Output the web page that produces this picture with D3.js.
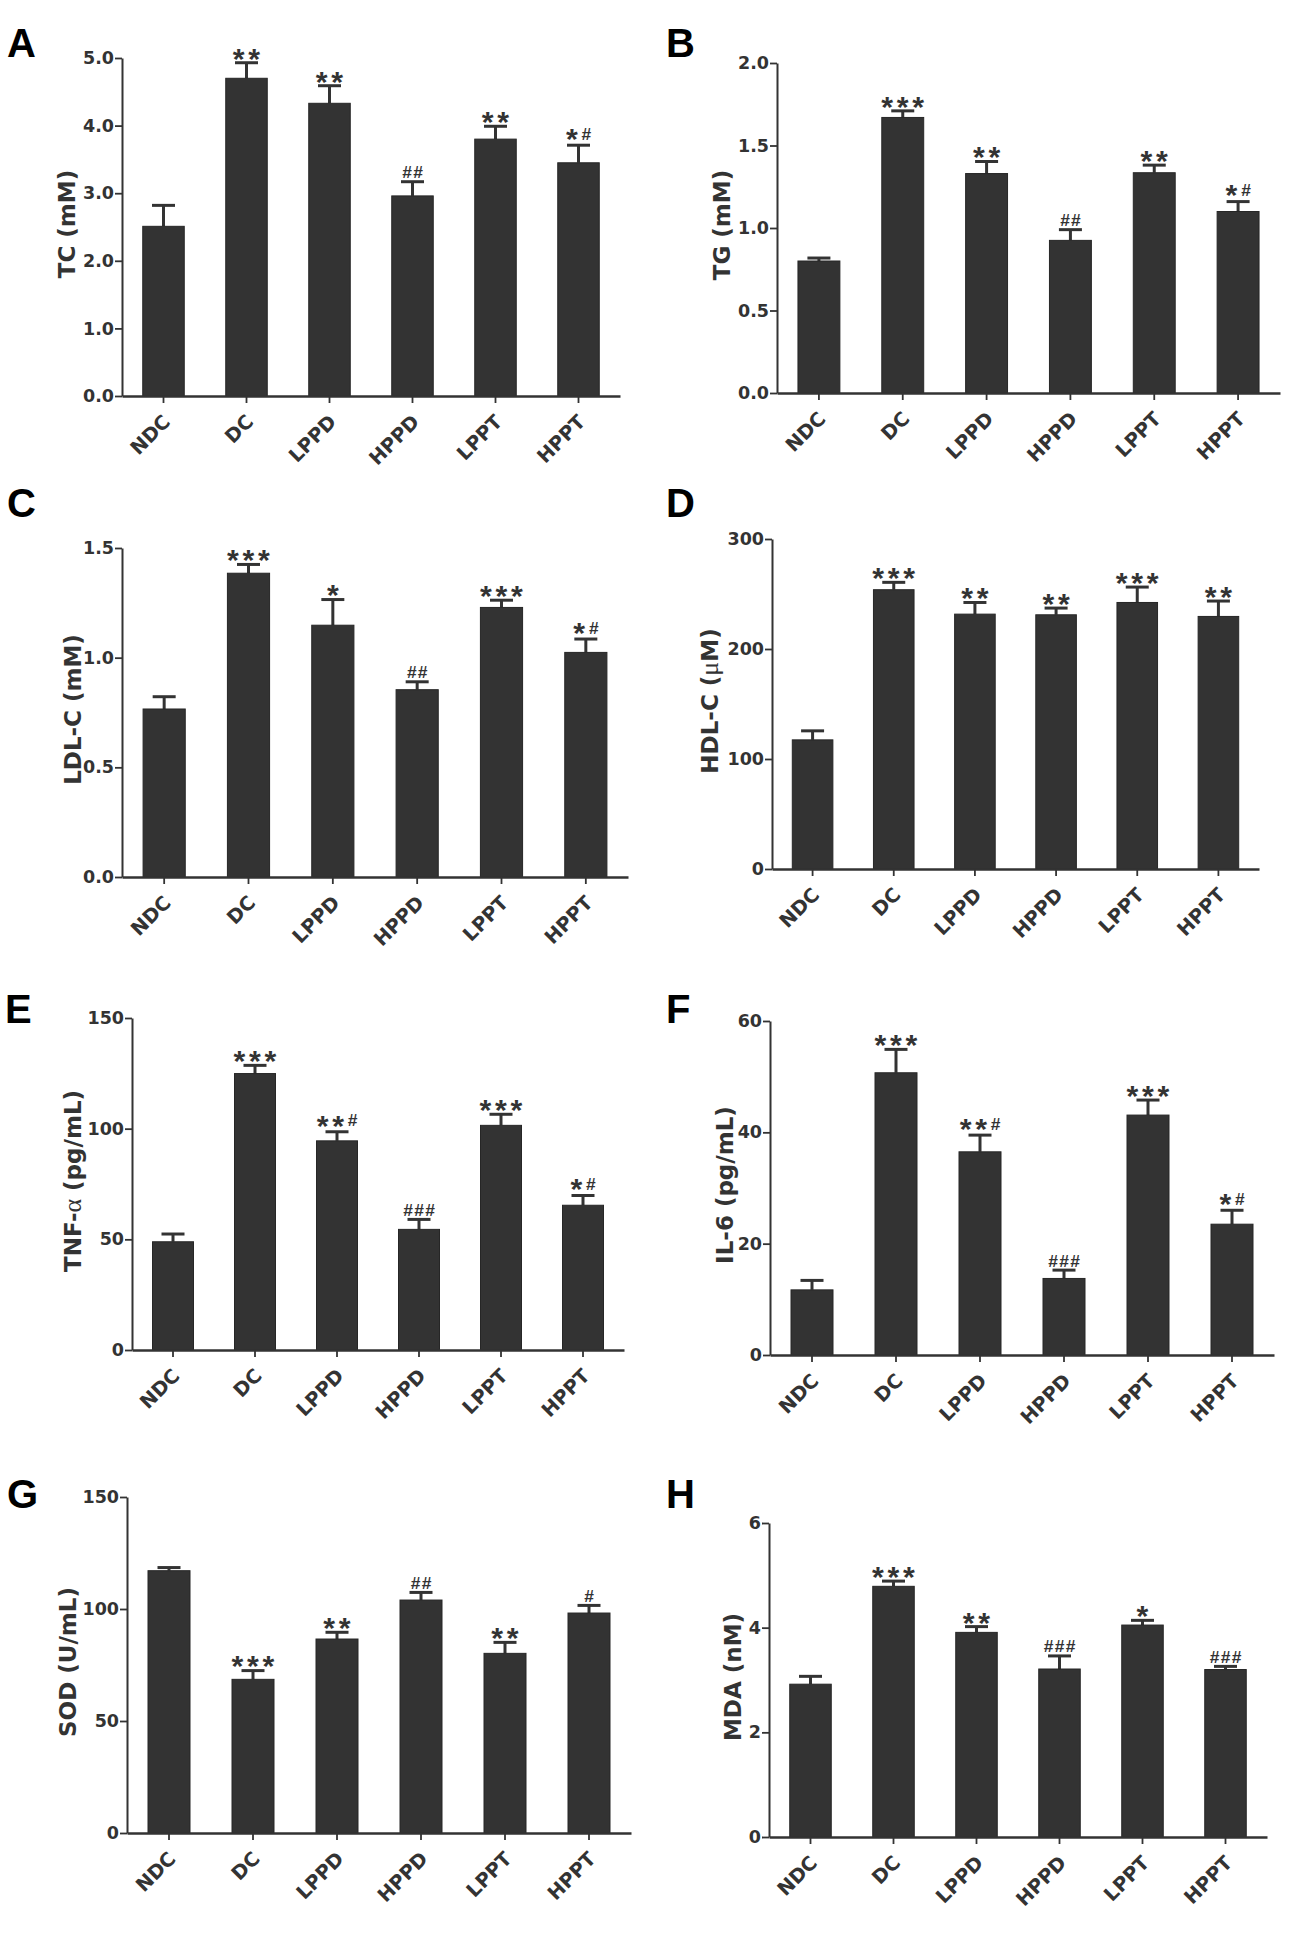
<!DOCTYPE html>
<html>
<head>
<meta charset="utf-8">
<script src="https://cdn.jsdelivr.net/npm/d3@7"></script>
<style>
body { margin: 0; background: #fff; }
svg { display: block; font-family: "DejaVu Sans", sans-serif; }
</style>
</head>
<body>
<div id="chart"></div>
<script>
// groups on every x axis
const groups = ["NDC", "DC", "LPPD", "HPPD", "LPPT", "HPPT"];

// A - TC (mM)
const tcMean = [2.51, 4.70, 4.33, 2.96, 3.80, 3.45];
const tcErr  = [0.31, 0.23, 0.26, 0.21, 0.19, 0.26];
const tcSig  = ["", "**", "**", "##", "**", "*#"];
const tcTicks = [0, 1, 2, 3, 4, 5];

// B - TG (mM)
const tgMean = [0.80, 1.67, 1.33, 0.925, 1.335, 1.10];
const tgErr  = [0.018, 0.04, 0.073, 0.065, 0.046, 0.06];
const tgSig  = ["", "***", "**", "##", "**", "*#"];
const tgTicks = [0, 0.5, 1.0, 1.5, 2.0];

// C - LDL-C (mM)
const ldlMean = [0.766, 1.385, 1.148, 0.854, 1.229, 1.024];
const ldlErr  = [0.056, 0.04, 0.117, 0.036, 0.033, 0.061];
const ldlSig  = ["", "***", "*", "##", "***", "*#"];
const ldlTicks = [0, 0.5, 1.0, 1.5];

// D - HDL-C (uM)
const hdlMean = [117.4, 253.9, 231.7, 231.1, 242.3, 229.6];
const hdlErr  = [8.2, 6.7, 10.6, 6.1, 14, 14];
const hdlSig  = ["", "***", "**", "**", "***", "**"];
const hdlTicks = [0, 100, 200, 300];

// E - TNF-a (pg/mL)
const tnfMean = [48.9, 124.9, 94.5, 54.5, 101.5, 65.4];
const tnfErr  = [3.5, 3.7, 4.1, 4.5, 5.0, 4.4];
const tnfSig  = ["", "***", "**#", "###", "***", "*#"];
const tnfTicks = [0, 50, 100, 150];

// F - IL-6 (pg/mL)
const il6Mean = [11.7, 50.7, 36.5, 13.75, 43.1, 23.5];
const il6Err  = [1.7, 4.2, 3.0, 1.5, 2.7, 2.5];
const il6Sig  = ["", "***", "**#", "###", "***", "*#"];
const il6Ticks = [0, 20, 40, 60];

// G - SOD (U/mL)
const sodMean = [117.1, 68.6, 86.6, 104.0, 80.2, 98.2];
const sodErr  = [1.4, 3.9, 3.0, 3.4, 4.9, 3.4];
const sodSig  = ["", "***", "**", "##", "**", "#"];
const sodTicks = [0, 50, 100, 150];

// H - MDA (nM)
const mdaMean = [2.92, 4.79, 3.91, 3.21, 4.05, 3.20];
const mdaErr  = [0.15, 0.10, 0.11, 0.25, 0.09, 0.06];
const mdaSig  = ["", "***", "**", "###", "*", "###"];
const mdaTicks = [0, 2, 4, 6];

const W = 1293, H = 1940;
const ink = "#333333";

// layout of each panel: axis box, letter and y title position
const panels = [
  { letter: "A", title: [["TC (mM)"]], mean: tcMean, err: tcErr, sig: tcSig, ticks: tcTicks, fmt: ".1f",
    x0: 122, x1: 620, top: 58, bot: 396, lx: 7, ly: 57, tx: 75 },
  { letter: "B", title: [["TG (mM)"]], mean: tgMean, err: tgErr, sig: tgSig, ticks: tgTicks, fmt: ".1f",
    x0: 777, x1: 1280, top: 63, bot: 393, lx: 666, ly: 57, tx: 730 },
  { letter: "C", title: [["LDL-C (mM)"]], mean: ldlMean, err: ldlErr, sig: ldlSig, ticks: ldlTicks, fmt: ".1f",
    x0: 122, x1: 628, top: 548, bot: 877, lx: 7, ly: 517, tx: 81 },
  { letter: "D", title: [["HDL-C ("], ["\u03bc", true], ["M)"]], mean: hdlMean, err: hdlErr, sig: hdlSig, ticks: hdlTicks, fmt: "d",
    x0: 772, x1: 1259, top: 539, bot: 869, lx: 666, ly: 517, tx: 718 },
  { letter: "E", title: [["TNF-"], ["\u03b1", true], [" (pg/mL)"]], mean: tnfMean, err: tnfErr, sig: tnfSig, ticks: tnfTicks, fmt: "d",
    x0: 132, x1: 624, top: 1018, bot: 1350, lx: 5, ly: 1023, tx: 81 },
  { letter: "F", title: [["IL-6 (pg/mL)"]], mean: il6Mean, err: il6Err, sig: il6Sig, ticks: il6Ticks, fmt: "d",
    x0: 770, x1: 1274, top: 1021, bot: 1355, lx: 666, ly: 1023, tx: 733 },
  { letter: "G", title: [["SOD (U/mL)"]], mean: sodMean, err: sodErr, sig: sodSig, ticks: sodTicks, fmt: "d",
    x0: 127, x1: 631, top: 1497, bot: 1833, lx: 7, ly: 1508, tx: 76 },
  { letter: "H", title: [["MDA (nM)"]], mean: mdaMean, err: mdaErr, sig: mdaSig, ticks: mdaTicks, fmt: "d",
    x0: 769, x1: 1267, top: 1523, bot: 1837, lx: 666, ly: 1508, tx: 741 }
];

// glyph ink metrics from a canvas, so the marks sit right on the caps
const ctx = document.createElement("canvas").getContext("2d");
function glyph(ch, weight, family, inkHeight, pitch) {
  ctx.font = `${weight} 100px ${family}`;
  const m = ctx.measureText(ch);
  const k = inkHeight / (m.actualBoundingBoxAscent + m.actualBoundingBoxDescent);
  return {
    size: 100 * k, weight, family,
    desc: m.actualBoundingBoxDescent * k,
    inkL: -m.actualBoundingBoxLeft * k,
    inkR: m.actualBoundingBoxRight * k,
    ls: pitch - m.width * k,
    pitch
  };
}
const starG = glyph("*", "bold", "'Liberation Sans'", 11.5, 15.5);
const hashG = glyph("#", "bold", "'Liberation Sans Narrow', 'Liberation Sans'", 12, 11);

const svg = d3.select("#chart").append("svg")
  .attr("width", W).attr("height", H)
  .attr("viewBox", `0 0 ${W} ${H}`);

function drawMark(g, s, cx, capY) {
  const stars = (s.match(/\*+/) || [""])[0];
  const hashes = (s.match(/#+/) || [""])[0];
  const parts = [[stars, starG], [hashes, hashG]].filter(d => d[0]);
  const widths = parts.map(([str, gl]) => (str.length - 1) * gl.pitch + gl.inkR - gl.inkL);
  const gap = 4;
  let xs = cx - (d3.sum(widths) + gap * (parts.length - 1)) / 2;
  const bottom = capY - (parts.length > 1 ? 4 : 2);
  parts.forEach(([str, gl], i) => {
    g.append("text")
      .attr("x", xs - gl.inkL).attr("y", bottom - gl.desc)
      .attr("font-size", gl.size).attr("font-weight", gl.weight)
      .attr("font-family", gl.family).attr("letter-spacing", gl.ls)
      .attr("fill", ink).text(str);
    xs += widths[i] + gap;
  });
}

function drawPanel(p) {
  const g = svg.append("g");
  const x = d3.scaleBand().domain(groups).range([p.x0, p.x1])
    .paddingInner(0.5).paddingOuter(0.25);
  const y = d3.scaleLinear().domain([0, p.ticks[p.ticks.length - 1]]).range([p.bot, p.top]);
  const rows = groups.map((k, i) => ({ k, m: p.mean[i], e: p.err[i], s: p.sig[i] }));
  const cx = d => x(d.k) + x.bandwidth() / 2;

  // error bars (upper half only)
  const eb = g.selectAll("g.eb").data(rows).join("g").attr("class", "eb");
  eb.append("line")
    .attr("x1", cx).attr("x2", cx)
    .attr("y1", d => y(d.m)).attr("y2", d => y(d.m + d.e))
    .attr("stroke", ink).attr("stroke-width", 3);
  eb.append("line")
    .attr("x1", d => cx(d) - 11.5).attr("x2", d => cx(d) + 11.5)
    .attr("y1", d => y(d.m + d.e)).attr("y2", d => y(d.m + d.e))
    .attr("stroke", ink).attr("stroke-width", 3);

  // bars
  g.selectAll("rect.bar").data(rows).join("rect").attr("class", "bar")
    .attr("x", d => x(d.k)).attr("width", x.bandwidth())
    .attr("y", d => y(d.m)).attr("height", d => y(0) - y(d.m))
    .attr("fill", ink).attr("stroke", "#262626").attr("stroke-width", 1);

  // significance marks
  rows.forEach(d => { if (d.s) drawMark(g, d.s, cx(d), y(d.m + d.e) - 1.5); });

  // y axis
  const ya = g.append("g").attr("transform", `translate(${p.x0},0)`)
    .call(d3.axisLeft(y).tickValues(p.ticks).tickFormat(d3.format(p.fmt))
      .tickSize(7).tickSizeOuter(0).tickPadding(1));
  ya.select(".domain").attr("stroke", ink).attr("stroke-width", 2);
  ya.selectAll(".tick line").attr("stroke", ink).attr("stroke-width", 1.8);
  ya.selectAll(".tick text").attr("fill", ink).attr("font-size", 17.5).attr("font-weight", "bold")
    .attr("font-family", "'DejaVu Sans', sans-serif");

  // x axis
  const xa = g.append("g").attr("transform", `translate(0,${p.bot})`)
    .call(d3.axisBottom(x).tickSize(7).tickSizeOuter(0));
  xa.select(".domain").attr("stroke", ink).attr("stroke-width", 2.4);
  xa.selectAll(".tick line").attr("stroke", ink).attr("stroke-width", 1.8);
  xa.selectAll(".tick text")
    .attr("x", 0).attr("y", 0).attr("dy", null)
    .attr("transform", "translate(8,27) rotate(-45)")
    .attr("text-anchor", "end")
    .attr("fill", ink).attr("font-size", 19.5).attr("font-weight", "bold")
    .attr("font-family", "'DejaVu Sans', sans-serif");

  // y title
  const tt = g.append("text")
    .attr("transform", `translate(${p.tx},${(p.top + p.bot) / 2 - 3}) rotate(-90)`)
    .attr("text-anchor", "middle").attr("fill", ink)
    .attr("font-size", 23).attr("font-weight", "bold");
  p.title.forEach(([s, greek]) => {
    const ts = tt.append("tspan").text(s);
    if (greek) ts.attr("font-family", "'Liberation Serif', serif").attr("font-weight", "normal").attr("font-size", 26);
  });

  // panel letter
  g.append("text").attr("x", p.lx).attr("y", p.ly)
    .attr("font-size", 40).attr("font-weight", "bold").attr("fill", "#000")
    .attr("font-family", "'Liberation Sans', Arial, sans-serif")
    .text(p.letter);
}

panels.forEach(drawPanel);
</script>
</body>
</html>
